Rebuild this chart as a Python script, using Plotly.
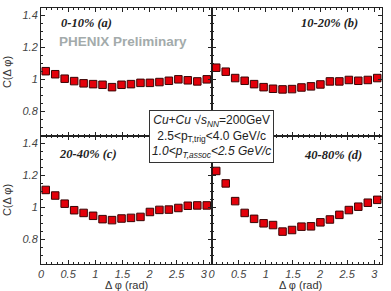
import plotly.graph_objects as go
from plotly.subplots import make_subplots

dphi = [0.087, 0.262, 0.436, 0.611, 0.785, 0.960, 1.134, 1.309, 1.484,
        1.658, 1.833, 2.007, 2.182, 2.356, 2.531, 2.705, 2.880, 3.054]

c_0_10 = [1.051, 1.032, 1.004, 0.989, 0.975, 0.970, 0.966, 0.951, 0.966,
          0.970, 0.978, 0.978, 0.983, 0.991, 1.000, 0.994, 0.987, 1.000]
c_10_20 = [1.073, 1.048, 1.008, 0.991, 0.970, 0.951, 0.941, 0.937, 0.939,
           0.949, 0.956, 0.968, 0.987, 0.987, 0.996, 0.991, 0.996, 1.008]
c_20_40 = [1.109, 1.074, 1.023, 0.982, 0.965, 0.947, 0.926, 0.920, 0.930,
           0.934, 0.940, 0.971, 0.984, 0.986, 0.996, 1.010, 1.012, 1.012]
c_40_80 = [1.228, 1.150, 1.039, 0.965, 0.928, 0.900, 0.889, 0.848, 0.858,
           0.879, 0.881, 0.906, 0.924, 0.953, 0.983, 1.004, 1.029, 1.047]

panels = [("0-10% (a)", c_0_10, 1, 1), ("10-20% (b)", c_10_20, 1, 2),
          ("20-40% (c)", c_20_40, 2, 1), ("40-80% (d)", c_40_80, 2, 2)]
label_pos = {(1, 1): (0.33, 1.35), (1, 2): (1.62, 1.35),
             (2, 1): (0.30, 1.335), (2, 2): (1.66, 1.33)}

fig = make_subplots(rows=2, cols=2, horizontal_spacing=0, vertical_spacing=0)

for name, vals, r, c in panels:
    fig.add_trace(go.Scatter(
        x=dphi, y=vals, mode="markers", name=name, showlegend=False,
        marker=dict(symbol="square", size=7.5, color="#e3000a",
                    line=dict(color="#3a0505", width=1))), row=r, col=c)
    lx, ly = label_pos[(r, c)]
    fig.add_annotation(x=lx, y=ly, text="<b><i>" + name + "</i></b>", showarrow=False,
                       xanchor="left", yanchor="middle",
                       font=dict(family="Liberation Serif", size=12.5, color="#222"),
                       row=r, col=c)

fig.add_annotation(x=0.30, y=1.236, text="<b>PHENIX Preliminary</b>", showarrow=False,
                   xanchor="left", yanchor="middle",
                   font=dict(family="Liberation Sans", size=13.5, color="#a3abab"),
                   row=1, col=1)

fig.add_annotation(
    xref="paper", yref="paper", x=0.5, y=0.5, xanchor="center", yanchor="middle",
    text=("<i>Cu+Cu</i> √<i>s<sub>NN</sub></i>=200GeV<br>"
          "2.5&lt;p<sub>T,trig</sub>&lt;4.0 GeV/c<br>"
          "<i>1.0&lt;p<sub>T,assoc</sub>&lt;2.5 GeV/c</i>"),
    showarrow=False, align="center", bgcolor="white", bordercolor="#333",
    borderwidth=1, borderpad=2,
    font=dict(family="Liberation Sans", size=12, color="#222"))

tickfont = dict(family="Liberation Sans", size=11, color="#444", style="italic")
for r in (1, 2):
    for c in (1, 2):
        fig.update_xaxes(range=[0, 3.1416], showline=True, linecolor="#222", linewidth=1,
                         mirror="ticks", ticks="inside", ticklen=4, tickcolor="#222",
                         dtick=0.5, tick0=0, showgrid=False, zeroline=False,
                         minor=dict(dtick=0.1, ticks="inside", ticklen=2, tickcolor="#222"),
                         showticklabels=(r == 2), tickfont=tickfont, row=r, col=c)
        fig.update_yaxes(range=[0.645, 1.447], showline=True, linecolor="#222", linewidth=1,
                         mirror="ticks", ticks="inside", ticklen=4, tickcolor="#222",
                         dtick=0.2, tick0=0, showgrid=False, zeroline=False,
                         minor=dict(dtick=0.05, ticks="inside", ticklen=2, tickcolor="#222"),
                         showticklabels=(c == 1), tickfont=tickfont, row=r, col=c)

titlefont = dict(family="Liberation Sans", size=11, color="#333")
for xc in (0.25, 0.76):
    fig.add_annotation(xref="paper", yref="paper", x=xc, y=-0.083, text="Δ φ (rad)",
                       showarrow=False, xanchor="center", yanchor="middle", font=titlefont)
for r in (1, 2):
    fig.update_yaxes(title=dict(text="C(Δ φ)", font=titlefont, standoff=8), row=r, col=1)

fig.update_layout(width=391, height=291, margin=dict(l=38, r=9, t=7, b=27),
                  paper_bgcolor="white", plot_bgcolor="white")

fig.write_html("out.html", config={"displayModeBar": False},
               post_script="document.body.style.margin='0';document.body.style.padding='0';")
